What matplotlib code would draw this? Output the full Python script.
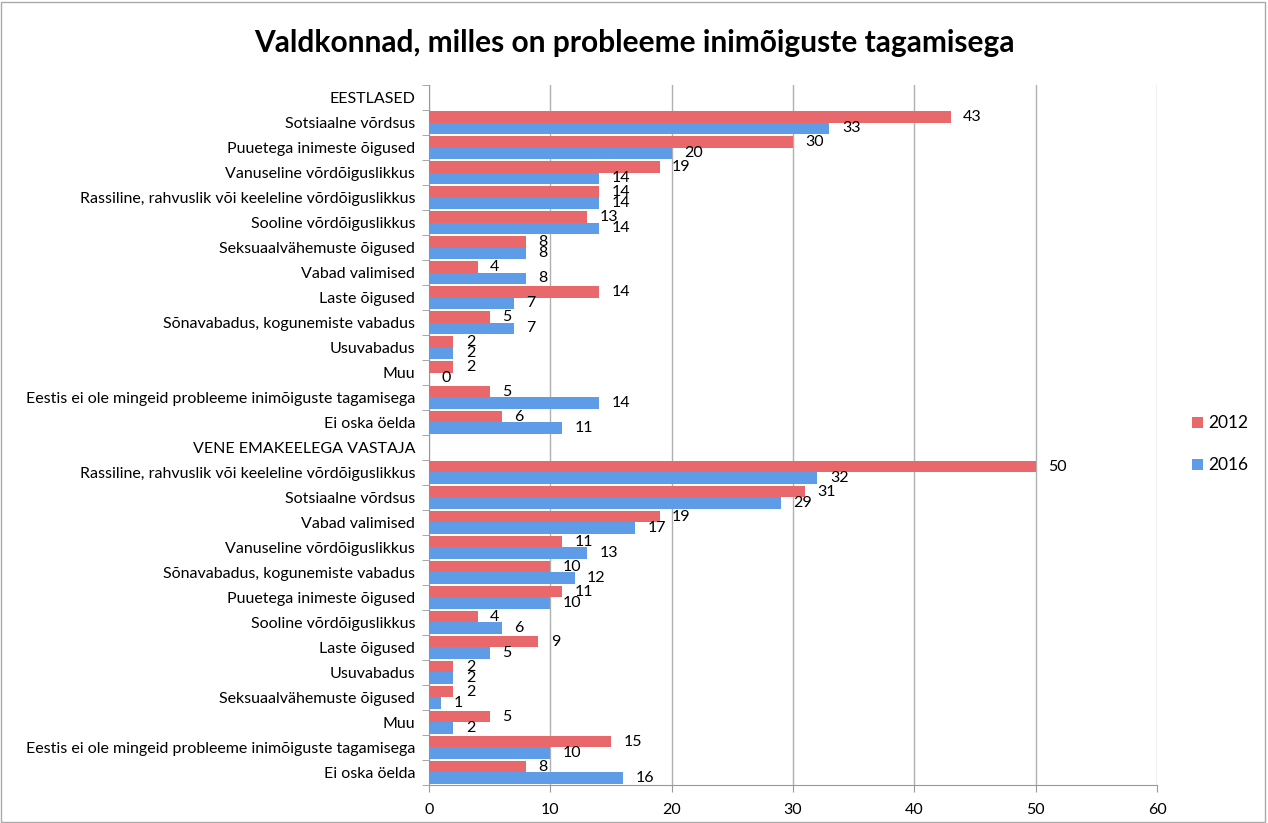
import matplotlib
matplotlib.use("Agg")
import matplotlib.pyplot as plt
import numpy as np

plt.rcParams['font.family'] = ['Lato', 'DejaVu Sans']

title = "Valdkonnad, milles on probleeme inimõiguste tagamisega"
series = ["2012", "2016"]

# group 1
group1 = "EESTLASED"
cats1 = ["Sotsiaalne võrdsus", "Puuetega inimeste õigused", "Vanuseline võrdõiguslikkus",
         "Rassiline, rahvuslik või keeleline võrdõiguslikkus", "Sooline võrdõiguslikkus",
         "Seksuaalvähemuste õigused", "Vabad valimised", "Laste õigused",
         "Sõnavabadus, kogunemiste vabadus", "Usuvabadus", "Muu",
         "Eestis ei ole mingeid probleeme inimõiguste tagamisega", "Ei oska öelda"]
v2012_1 = [43, 30, 19, 14, 13, 8, 4, 14, 5, 2, 2, 5, 6]
v2016_1 = [33, 20, 14, 14, 14, 8, 8, 7, 7, 2, 0, 14, 11]

# group 2
group2 = "VENE EMAKEELEGA VASTAJA"
cats2 = ["Rassiline, rahvuslik või keeleline võrdõiguslikkus", "Sotsiaalne võrdsus",
         "Vabad valimised", "Vanuseline võrdõiguslikkus", "Sõnavabadus, kogunemiste vabadus",
         "Puuetega inimeste õigused", "Sooline võrdõiguslikkus", "Laste õigused",
         "Usuvabadus", "Seksuaalvähemuste õigused", "Muu",
         "Eestis ei ole mingeid probleeme inimõiguste tagamisega", "Ei oska öelda"]
v2012_2 = [50, 31, 19, 11, 10, 11, 4, 9, 2, 2, 5, 15, 8]
v2016_2 = [32, 29, 17, 13, 12, 10, 6, 5, 2, 1, 2, 10, 16]

labels = [group1] + cats1 + [group2] + cats2
n = len(labels)
rows = np.arange(n)
data_rows1 = rows[1:1 + len(cats1)]
data_rows2 = rows[2 + len(cats1):]
pos = np.concatenate([data_rows1, data_rows2])
a = v2012_1 + v2012_2
b = v2016_1 + v2016_2

red = '#E8686B'
blue = '#5E9CE8'

fig = plt.figure(figsize=(12.68, 8.23), dpi=100)
ax = fig.add_axes([0.3383, 0.0462, 0.9125 - 0.3383, 0.8967 - 0.0462])

h = 0.47
r1 = ax.barh(pos - h / 2, a, height=h, color=red, label=series[0], zorder=3)
r2 = ax.barh(pos + h / 2, b, height=h, color=blue, label=series[1], zorder=3)
ax.bar_label(r1, padding=9, fontsize=11.5, zorder=4)
ax.bar_label(r2, padding=9, fontsize=11.5, zorder=4)

ax.set_xlim(0, 60)
ax.set_ylim(n - 0.5, -0.5)
ax.set_xticks(np.arange(0, 61, 10))
ax.set_yticks(rows)
ax.set_yticklabels(labels, fontsize=11.5)
ax.set_yticks(np.arange(-0.5, n, 1), minor=True)
ax.tick_params(axis='y', which='major', length=0, pad=10)
ax.tick_params(axis='y', which='minor', length=5, color='#999999')
ax.tick_params(axis='x', length=5, color='#999999', labelsize=11.5, pad=8)
ax.grid(axis='x', color='#b0b0b0', linewidth=1, zorder=0)
for s in ['top', 'right']:
    ax.spines[s].set_visible(False)
for s in ['left', 'bottom']:
    ax.spines[s].set_color('#999999')

fig.suptitle(title, fontsize=21.5, fontweight='bold', y=0.965)
fig.legend(handles=[r1, r2], loc='center left', bbox_to_anchor=(0.928, 0.46),
           frameon=False, fontsize=12.5, handlelength=0.6, handleheight=0.6,
           labelspacing=1.5, handletextpad=0.3)

fig.patches.append(plt.Rectangle((0.001, 0.001), 0.997, 0.997, transform=fig.transFigure,
                                 fill=False, edgecolor='#aaaaaa', linewidth=1))

fig.savefig("out.png", dpi=100)
